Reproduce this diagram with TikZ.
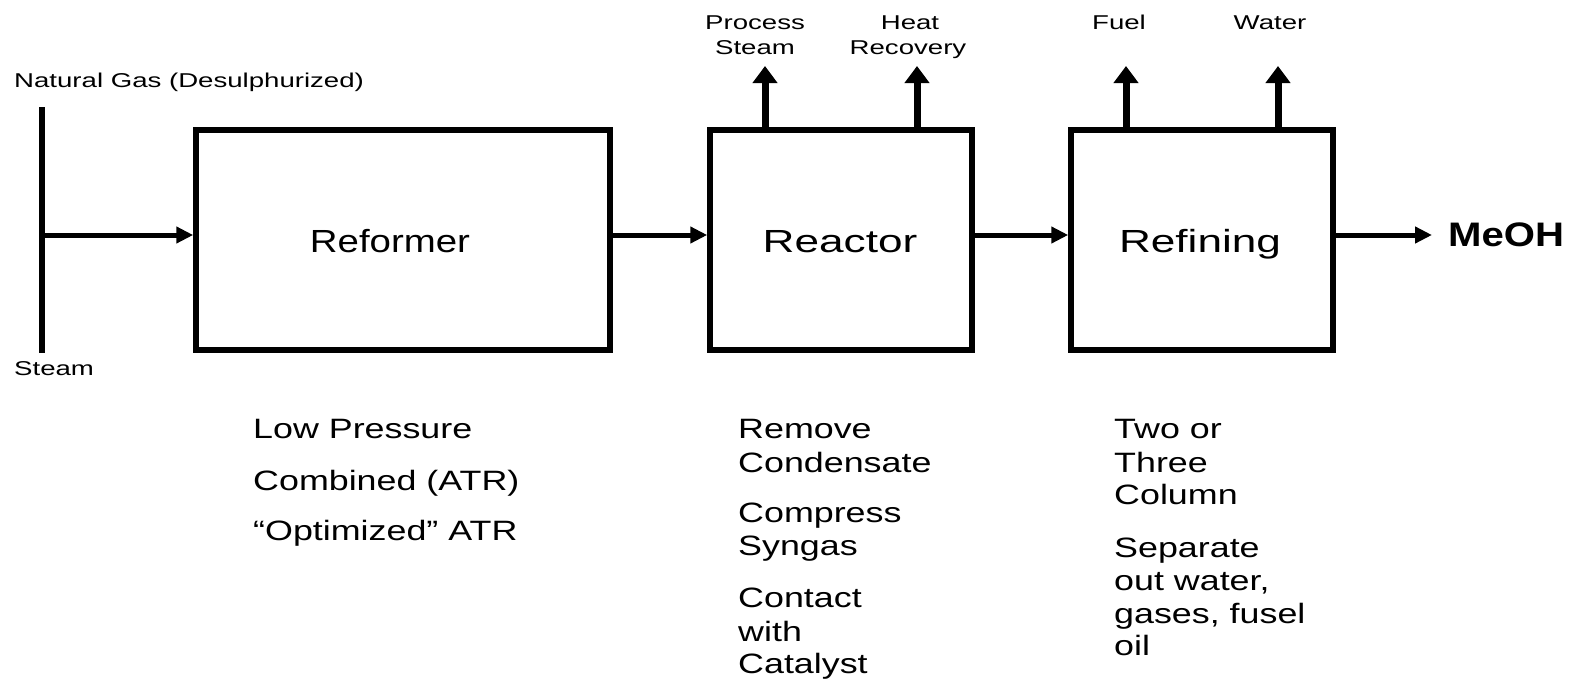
\documentclass[tikz,border=0pt]{standalone}
\usepackage{fontspec}
\setmainfont{Liberation Sans}
\newfontfamily\smallfnt[FakeStretch=1.38]{Liberation Sans}
\newfontfamily\notefnt[FakeStretch=1.28]{Liberation Sans}
\newfontfamily\titlefnt[FakeStretch=1.2]{Liberation Sans}
\newfontfamily\titlewfnt[FakeStretch=1.38]{Liberation Sans}
\newfontfamily\prodfnt[FakeStretch=1.18]{Liberation Sans}
\usetikzlibrary{arrows.meta}
\tikzset{
  box/.style={draw=black, line width=5.5pt, minimum height=220pt, inner sep=0pt},
  title/.style={font=\titlefnt\fontsize{32}{32}\selectfont, inner sep=0pt, anchor=base},
  titlew/.style={font=\titlewfnt\fontsize{32}{32}\selectfont, inner sep=0pt, anchor=base},
  lbl/.style={font=\smallfnt\fontsize{20}{20}\selectfont, inner sep=0pt, anchor=base},
  note/.style={font=\notefnt\fontsize{28}{28}\selectfont, inner sep=0pt, anchor=base west},
  flow/.style={line width=5pt, -{Triangle[length=17pt,width=16pt]}},
  upflow/.style={line width=7pt, -{Triangle[length=17pt,width=24pt]}},
}
\begin{document}
\begin{tikzpicture}[x=1pt,y=-1pt]
\useasboundingbox (0,0) rectangle (1573,680);
% boxes
\node[box, minimum width=414pt] (ref) at (403,240) {};
\node[box, minimum width=262pt] (reac) at (841,240) {};
\node[box, minimum width=262pt] (refi) at (1202,240) {};
\node[title] (reft) at (390,252) {Reformer};
\node[titlew] (react) at (840,252) {Reactor};
\node[titlew] (refit) at (1200,252) {Refining};
% feed line
\coordinate (ngtop) at (42,107);
\coordinate (stbot) at (42,353);
\coordinate (junc) at (42,235);
\draw[line width=6pt] (ngtop) -- (stbot);
\node[lbl, anchor=base west] (ng) at (14,87) {Natural Gas (Desulphurized)};
\node[lbl, anchor=base west] (st) at (14,375) {Steam};
% main flow
\draw[flow] (junc) -- (junc -| ref.west);
\draw[flow] (junc -| ref.east) -- (junc -| reac.west);
\draw[flow] (junc -| reac.east) -- (junc -| refi.west);
\coordinate (meohtip) at (1432,235);
\draw[flow] (junc -| refi.east) -- (meohtip);
\node[font=\prodfnt\bfseries\fontsize{34}{34}\selectfont, inner sep=0pt, anchor=base west] (meoh) at (1448,246) {MeOH};
% up arrows
\coordinate (ps) at (765,66);
\coordinate (hr) at (917,66);
\coordinate (fu) at (1126,66);
\coordinate (wa) at (1278,66);
\draw[upflow] (ps |- reac.north) -- (ps);
\draw[upflow] (hr |- reac.north) -- (hr);
\draw[upflow] (fu |- refi.north) -- (fu);
\draw[upflow] (wa |- refi.north) -- (wa);
\node[lbl] (psl1) at (755,29) {Process};
\node[lbl] (psl2) at (755,54) {Steam};
\node[lbl] (hrl1) at (910,29) {Heat};
\node[lbl] (hrl2) at (908,54) {Recovery};
\node[lbl] (ful) at (1119,29) {Fuel};
\node[lbl] (wal) at (1270,29) {Water};
% notes
\node[note] (n1) at (253,438) {Low Pressure};
\node[note] (n2) at (253,490) {Combined (ATR)};
\node[note] (n3) at (253,540) {“Optimized” ATR};
\node[note] (r1) at (738,438) {Remove};
\node[note] (r2) at (738,472) {Condensate};
\node[note] (r3) at (738,522) {Compress};
\node[note] (r4) at (738,555) {Syngas};
\node[note] (r5) at (738,607) {Contact};
\node[note] (r6) at (738,641) {with};
\node[note] (r7) at (738,673) {Catalyst};
\node[note] (f1) at (1114,438) {Two or};
\node[note] (f2) at (1114,472) {Three};
\node[note] (f3) at (1114,504) {Column};
\node[note] (f4) at (1114,557) {Separate};
\node[note] (f5) at (1114,590) {out water,};
\node[note] (f6) at (1114,623) {gases, fusel};
\node[note] (f7) at (1114,655) {oil};
\end{tikzpicture}
\end{document}
